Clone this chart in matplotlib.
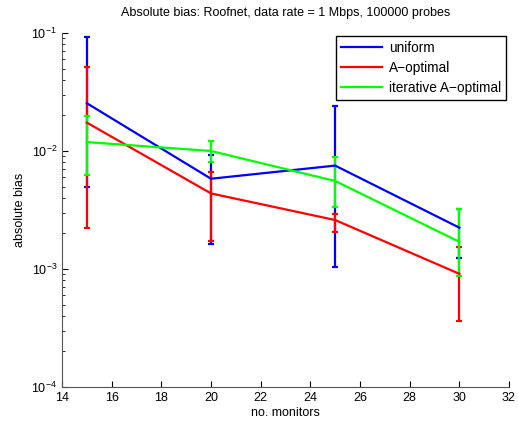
import matplotlib
matplotlib.use("Agg")
import matplotlib.pyplot as plt
from matplotlib.lines import Line2D
import numpy as np

plt.rcParams["font.family"] = ["Liberation Sans", "DejaVu Sans"]

monitors = [15, 20, 25, 30]

# mean absolute bias with lower / upper extent of the error bars
uniform = [0.0254, 0.00582, 0.00752, 0.00224]
uniform_lo = [0.0050, 0.00162, 0.00103, 0.00123]
uniform_hi = [0.092, 0.0093, 0.024, 0.0032]

aopt = [0.0174, 0.00437, 0.0026, 0.00091]
aopt_lo = [0.00221, 0.00174, 0.00206, 0.00036]
aopt_hi = [0.052, 0.0066, 0.0029, 0.00155]

iter_aopt = [0.0119, 0.0100, 0.00557, 0.0017]
iter_lo = [0.00627, 0.0080, 0.00335, 0.00087]
iter_hi = [0.0197, 0.0122, 0.00896, 0.00323]

series = [
    ("uniform", uniform, uniform_lo, uniform_hi, "#0000ff"),
    ("A\u2212optimal", aopt, aopt_lo, aopt_hi, "#ff0000"),
    ("iterative A\u2212optimal", iter_aopt, iter_lo, iter_hi, "#00ff00"),
]

fig = plt.figure(figsize=(5.18, 4.23), dpi=100)
ax = fig.add_axes([0.1197, 0.0851, 0.8629, 0.8369])

handles = []
for lab, y, lo, hi, c in series:
    y = np.array(y)
    err = [y - np.array(lo), np.array(hi) - y]
    ax.errorbar(monitors, y, yerr=err, color=c, lw=1.6, elinewidth=1.6,
                capsize=2.5, capthick=1.6)
    handles.append(Line2D([], [], color=c, lw=1.6, label=lab))

ax.set_yscale("log")
ax.set_xlim(14, 32)
ax.set_ylim(1e-4, 1e-1)
ax.set_xticks(range(14, 33, 2))
ax.spines["top"].set_visible(False)
ax.spines["right"].set_visible(False)
for s in ("left", "bottom"):
    ax.spines[s].set_color("#555555")
ax.tick_params(which="both", direction="in", labelsize=9, top=False, right=False)
ax.tick_params(which="major", length=4)
ax.tick_params(which="minor", length=2)

ax.set_xlabel("no. monitors", fontsize=9, labelpad=2)
ax.set_ylabel("absolute bias", fontsize=9)
ax.set_title("Absolute bias: Roofnet, data rate = 1 Mbps, 100000 probes",
             fontsize=9, pad=12)

ax.legend(handles=handles, loc="upper right", fontsize=9.8, handlelength=3.0,
          fancybox=False, framealpha=1, edgecolor="black",
          borderaxespad=0.2, labelspacing=0.42, borderpad=0.4,
          handletextpad=0.5)

fig.savefig("out.png", dpi=100)
